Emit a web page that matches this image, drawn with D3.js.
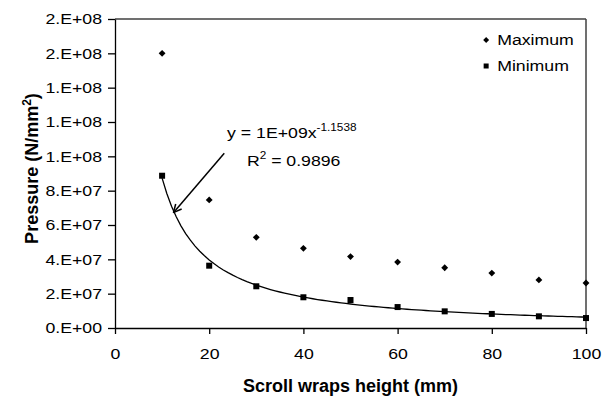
<!DOCTYPE html>
<html>
<head>
<meta charset="utf-8">
<script src="https://cdn.jsdelivr.net/npm/d3@7"></script>
<style>
  html, body { margin: 0; padding: 0; background: #fff; }
  svg text { font-family: "Liberation Sans", Arial, sans-serif; fill: #000; }
</style>
</head>
<body>
<div id="chart"></div>
<script>
// data
const heights = [10, 20, 30, 40, 50, 60, 70, 80, 90, 100];
const maximum = [1.60e8, 7.46e7, 5.28e7, 4.64e7, 4.16e7, 3.84e7, 3.51e7, 3.20e7, 2.80e7, 2.62e7];
const minimum = [8.87e7, 3.63e7, 2.43e7, 1.79e7, 1.63e7, 1.22e7, 9.7e6, 8.2e6, 6.8e6, 5.8e6];
const xTicks = [0, 20, 40, 60, 80, 100];
const yTicks = [0, 2e7, 4e7, 6e7, 8e7, 1e8, 1.2e8, 1.4e8, 1.6e8, 1.8e8];
const seriesNames = ["Maximum", "Minimum"];
const equationText = ["y = 1E+09x", "-1.1538"];
const r2Text = "0.9896";

const width = 609, height = 397;
const margin = { top: 19, right: 23, bottom: 69, left: 115 };
const innerW = width - margin.left - margin.right;
const innerH = height - margin.top - margin.bottom;
const sx = 1.18; // glyphs in the picture are a bit wider than Arial

const svg = d3.select("#chart").append("svg")
  .attr("width", width)
  .attr("height", height);

const x = d3.scaleLinear().domain([0, 100]).range([0, innerW]);
const y = d3.scaleLinear().domain([0, 1.8e8]).range([innerH, 0]);

function fmtE(v) {
  if (v === 0) return "0.E+00";
  const e = Math.floor(Math.log10(v));
  const m = Math.round(v / Math.pow(10, e));
  return m + ".E+" + String(e).padStart(2, "0");
}

const g = svg.append("g").attr("transform", `translate(${margin.left},${margin.top})`);

// plot frame (top and right)
g.append("line").attr("x1", 0).attr("x2", innerW).attr("y1", 0).attr("y2", 0)
  .attr("stroke", "#404040").attr("stroke-width", 1.5);
g.append("line").attr("x1", innerW).attr("x2", innerW).attr("y1", 0).attr("y2", innerH)
  .attr("stroke", "#404040").attr("stroke-width", 1.5);

// y axis
const yAxis = g.append("g").attr("class", "yAxis")
  .call(d3.axisLeft(y).tickValues(yTicks).tickFormat(fmtE).tickSize(7).tickSizeOuter(0));
yAxis.selectAll("path, line").attr("stroke", "#000").attr("stroke-width", 1.3);
yAxis.selectAll("text")
  .attr("x", -13 / sx)
  .attr("transform", `scale(${sx},1)`)
  .style("font-size", "15px")
  .style("font-family", "Liberation Sans, Arial, sans-serif");

// x axis
const xAxis = g.append("g").attr("class", "xAxis")
  .attr("transform", `translate(0,${innerH})`)
  .call(d3.axisBottom(x).tickValues(xTicks).tickSize(6).tickSizeOuter(0).tickPadding(14));
xAxis.selectAll("path, line").attr("stroke", "#000").attr("stroke-width", 1.3);
xAxis.selectAll("text")
  .attr("transform", `scale(${sx},1)`)
  .style("font-size", "15px")
  .style("font-family", "Liberation Sans, Arial, sans-serif");

// axis titles
svg.append("text")
  .attr("x", margin.left + innerW / 2).attr("y", 392)
  .attr("text-anchor", "middle")
  .style("font-size", "18px").style("font-weight", "bold")
  .text("Scroll wraps height (mm)");

const yTitle = svg.append("text")
  .attr("transform", `translate(38,${margin.top + innerH / 2 - 5}) rotate(-90)`)
  .attr("text-anchor", "middle")
  .style("font-size", "18px").style("font-weight", "bold");
yTitle.append("tspan").text("Pressure (N/mm");
yTitle.append("tspan").attr("dy", -7).style("font-size", "12px").text("2");
yTitle.append("tspan").attr("dy", 7).text(")");

// power trendline, fitted on the minimum series in log-log space
const lx = heights.map(Math.log), ly = minimum.map(Math.log);
const mx = d3.mean(lx), my = d3.mean(ly);
const b = d3.sum(lx, (v, i) => (v - mx) * (ly[i] - my)) / d3.sum(lx, v => (v - mx) * (v - mx));
const a = Math.exp(my - b * mx);
const fit = d3.range(10, 100.01, 1).map(h => [h, a * Math.pow(h, b)]);
g.append("path")
  .datum(fit)
  .attr("fill", "none").attr("stroke", "#000").attr("stroke-width", 1.3)
  .attr("d", d3.line().x(d => x(d[0])).y(d => y(d[1])));

// markers
const diamond = d3.symbol().type(d3.symbolDiamond2).size(30);
g.selectAll(".max").data(heights).enter().append("path")
  .attr("class", "max")
  .attr("transform", (d, i) => `translate(${x(d)},${y(maximum[i])})`)
  .attr("d", diamond).attr("fill", "#000");
g.selectAll(".min").data(heights).enter().append("rect")
  .attr("class", "min")
  .attr("x", d => x(d) - 3).attr("width", 6)
  .attr("y", (d, i) => y(minimum[i]) - 3).attr("height", 6)
  .attr("fill", "#000");

// legend
const legend = g.append("g").attr("transform", `translate(${x(78.8)},0)`);
seriesNames.forEach((name, i) => {
  const row = legend.append("g").attr("transform", `translate(0,${21 + i * 26})`);
  if (i === 0) row.append("path").attr("d", d3.symbol().type(d3.symbolDiamond2).size(22)).attr("fill", "#000");
  else row.append("rect").attr("x", -2.5).attr("y", -2.5).attr("width", 5).attr("height", 5).attr("fill", "#000");
  row.append("text").attr("transform", `translate(11,5) scale(${sx},1)`)
    .style("font-size", "15px").text(name);
});

// trendline label and arrow
const eq = g.append("text")
  .attr("transform", `translate(${x(23.8)},${y(1.1e8) - 1}) scale(${sx},1)`)
  .style("font-size", "15px");
eq.append("tspan").text(equationText[0]);
eq.append("tspan").attr("dy", -7).style("font-size", "10px").text(equationText[1]);

const r2 = g.append("text")
  .attr("transform", `translate(${x(28)},${y(0.94e8) - 1}) scale(${sx},1)`)
  .style("font-size", "15px");
r2.append("tspan").text("R");
r2.append("tspan").attr("dy", -7).style("font-size", "10px").text("2");
r2.append("tspan").attr("dy", 7).text(" = " + r2Text);

const ax0 = x(23.2), ay0 = y(1.018e8);
const ax1 = x(12.4), ay1 = y(a * Math.pow(12.4, b)) + 2;
g.append("line").attr("x1", ax0).attr("y1", ay0).attr("x2", ax1).attr("y2", ay1)
  .attr("stroke", "#000").attr("stroke-width", 1.5);
const ang = Math.atan2(ay1 - ay0, ax1 - ax0);
[-0.45, 0.45].forEach(da => {
  g.append("line")
    .attr("x1", ax1).attr("y1", ay1)
    .attr("x2", ax1 - 9 * Math.cos(ang + da)).attr("y2", ay1 - 9 * Math.sin(ang + da))
    .attr("stroke", "#000").attr("stroke-width", 1.5);
});
</script>
</body>
</html>
